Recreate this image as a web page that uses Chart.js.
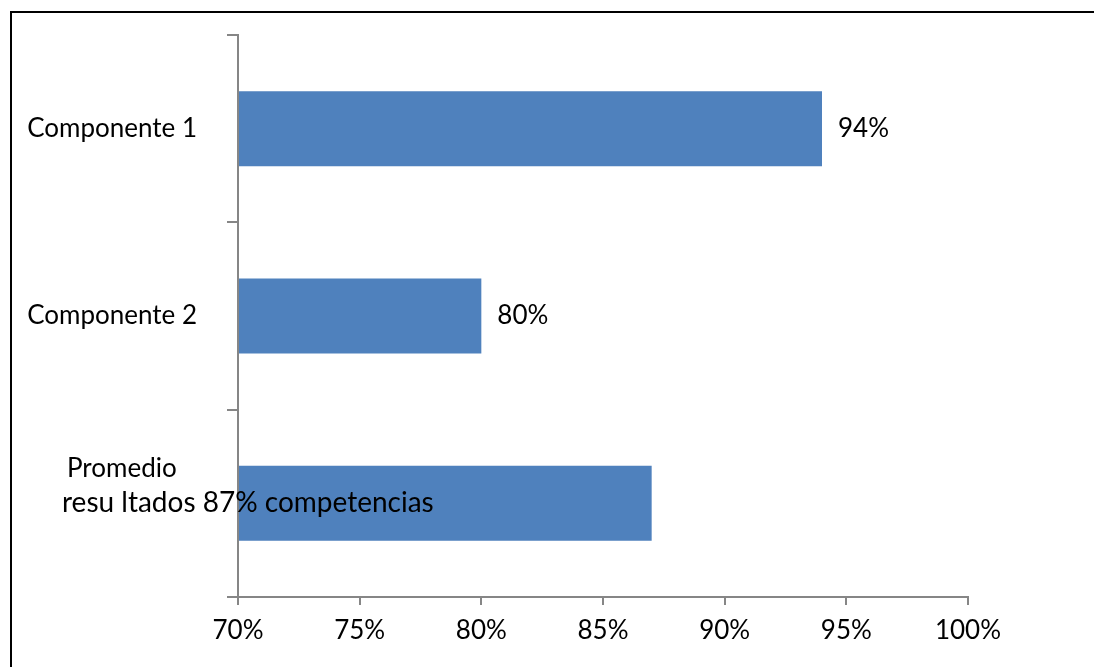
<!DOCTYPE html>
<html><head>
<meta charset="utf-8">
<title>Componentes</title>
<script src="https://cdn.jsdelivr.net/npm/chart.js@4"></script>
<style>
html, body { margin: 0; background: #fff; overflow: hidden; }
canvas { display: block; }
</style></head><body>
<canvas id="chart" width="1094" height="667"></canvas>
<script>
// Categories, top to bottom, as in the picture
const categories = ['Componente 1', 'Componente 2', 'Promedio resultados competencias'];
// Category label lines as they appear (third label overlaps its own value)
const labelLines = [['Componente 1'], ['Componente 2'], ['Promedio', 'resu ltados 87% competencias']];
const values = [94, 80, 87];
const valueLabels = ['94%', '80%', ''];
const xTicks = [70, 75, 80, 85, 90, 95, 100];

const FONT = '"Lato", "Open Sans", sans-serif';
const AXIS = '#868686';

// outer frame (only top and left edges fall inside the picture)
const framePlugin = {
  id: 'frame',
  beforeDraw(chart) {
    const ctx = chart.ctx;
    ctx.save();
    ctx.strokeStyle = '#000';
    ctx.lineWidth = 2;
    ctx.beginPath();
    ctx.moveTo(chart.width + 2, 12);
    ctx.lineTo(11, 12);
    ctx.lineTo(11, chart.height + 2);
    ctx.stroke();
    ctx.restore();
  }
};

const labelPlugin = {
  id: 'labels',
  afterDraw(chart) {
    const ctx = chart.ctx;
    const y = chart.scales.y, x = chart.scales.x;
    const left = chart.chartArea.left;
    ctx.save();
    ctx.font = '26px ' + FONT;
    ctx.fillStyle = '#000';
    ctx.textBaseline = 'middle';
    // category labels
    labelLines.forEach((lines, i) => {
      const cy = y.getPixelForValue(i);
      if (lines.length === 1) {
        ctx.textAlign = 'right';
        ctx.fillText(lines[0], left - 41, cy);
      } else {
        ctx.textAlign = 'left';
        ctx.fillText(lines[0], left - 171, cy - 35);
        ctx.font = '28px ' + FONT;
        ctx.fillText(lines[1], left - 176, cy);
        ctx.font = '26px ' + FONT;
      }
    });
    // value labels
    ctx.textAlign = 'left';
    values.forEach((v, i) => {
      if (!valueLabels[i]) return;
      ctx.fillText(valueLabels[i], x.getPixelForValue(v) + 16, y.getPixelForValue(i));
    });
    ctx.restore();
  }
};

new Chart(document.getElementById('chart'), {
  type: 'bar',
  data: {
    labels: categories,
    datasets: [{
      data: values,
      base: xTicks[0],
      backgroundColor: '#4F81BD',
      borderWidth: 0,
      categoryPercentage: 1,
      barPercentage: 0.4,
    }]
  },
  options: {
    indexAxis: 'y',
    responsive: false,
    animation: false,
    layout: { padding: { left: 0, top: 35, right: 126, bottom: 0 } },
    plugins: { legend: { display: false }, tooltip: { enabled: false } },
    scales: {
      x: {
        min: xTicks[0], max: xTicks[xTicks.length - 1],
        afterBuildTicks: s => { s.ticks = xTicks.map(v => ({ value: v })); },
        afterFit: s => { s.height = 70; },
        border: { display: true, color: AXIS, width: 2 },
        grid: { drawOnChartArea: false, drawTicks: true, tickLength: 8, color: AXIS, lineWidth: 2 },
        ticks: { color: '#000', font: { family: FONT, size: 26 }, padding: 10, maxRotation: 0, callback: v => v + '%' }
      },
      y: {
        afterFit: s => { s.width = 238; },
        border: { display: true, color: AXIS, width: 2 },
        grid: { drawOnChartArea: false, drawTicks: true, tickLength: 11, color: AXIS, lineWidth: 2, offset: true },
        ticks: { display: true, color: 'rgba(0,0,0,0)', callback: () => '' }
      }
    }
  },
  plugins: [framePlugin, labelPlugin]
});
</script>
</body></html>
